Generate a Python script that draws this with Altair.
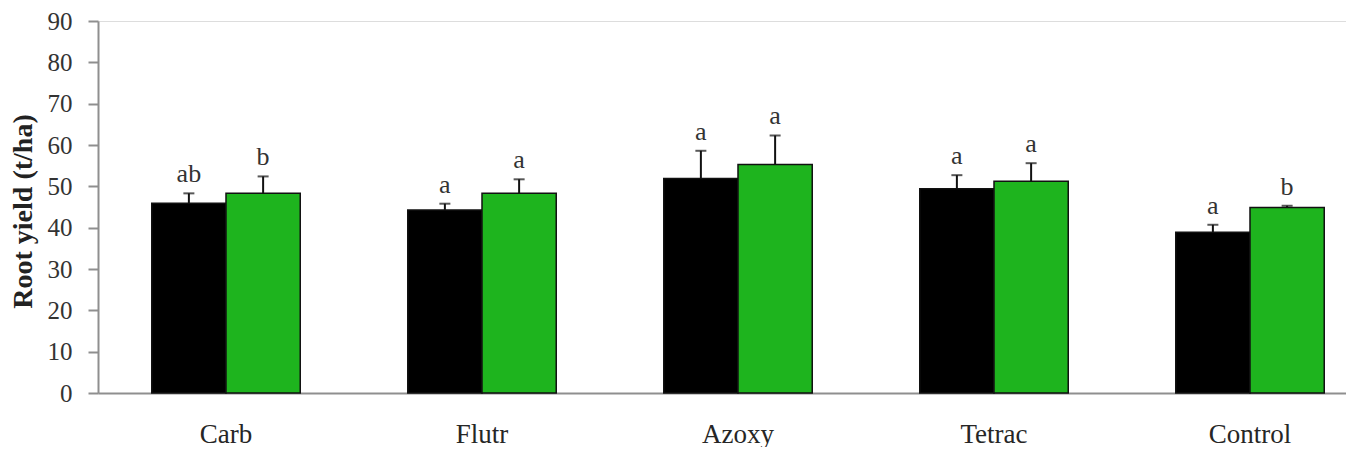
import altair as alt
import pandas as pd

categories = ["Carb", "Flutr", "Azoxy", "Tetrac", "Control"]
series_names = ["Series 1", "Series 2"]
black_values = [45.9, 44.3, 51.9, 49.4, 38.9]
black_errors = [2.4, 1.5, 6.7, 3.3, 1.8]
green_values = [48.3, 48.3, 55.3, 51.2, 44.9]
green_errors = [4.1, 3.4, 7.0, 4.4, 0.4]
black_letters = ["ab", "a", "a", "a", "a"]
green_letters = ["b", "a", "a", "a", "b"]
y_ticks = [0, 10, 20, 30, 40, 50, 60, 70, 80, 90]

rows = []
for i, c in enumerate(categories):
    rows.append({"cat": c, "series": series_names[0], "value": black_values[i],
                 "err": black_errors[i], "letter": black_letters[i]})
    rows.append({"cat": c, "series": series_names[1], "value": green_values[i],
                 "err": green_errors[i], "letter": green_letters[i]})
df = pd.DataFrame(rows)

FONT = "Liberation Serif"
W, H = 1248, 372

xenc = alt.X("cat:N", sort=categories, title=None,
             scale=alt.Scale(range=[0, 1280], paddingInner=0.42, paddingOuter=0.21),
             axis=alt.Axis(labelAngle=0, labelFont=FONT, labelFontSize=27, labelColor="#262626",
                           ticks=False, tickSize=0, labelPadding=49, labelBaseline="alphabetic",
                           domainColor="#8f8f8f", domainWidth=2, grid=False))
xoff = alt.XOffset("series:N", sort=series_names, scale=alt.Scale(paddingInner=0, paddingOuter=0))
yscale = alt.Scale(domain=[0, 90], nice=False)

base = alt.Chart(df).transform_calculate(top="datum.value + datum.err")

bars = base.mark_bar(stroke="#111111", strokeWidth=1.5).encode(
    x=xenc,
    xOffset=xoff,
    y=alt.Y("value:Q", scale=yscale, title="Root yield (t/ha)",
            axis=alt.Axis(values=y_ticks, grid=False, labelFont=FONT, labelFontSize=25,
                          labelColor="#333333", tickSize=10, tickColor="#8f8f8f", tickWidth=2,
                          domainColor="#8f8f8f", domainWidth=2, labelPadding=16,
                          titleFont=FONT, titleFontSize=28, titleFontWeight="bold",
                          titleColor="#222222", titleAngle=-90, titleX=-75, titleY=190,
                          titleBaseline="middle", titleAlign="center")),
    color=alt.Color("series:N", sort=series_names,
                    scale=alt.Scale(domain=series_names, range=["#000000", "#1eb41e"]),
                    legend=None),
)

err_lines = base.mark_rule(color="#111111", strokeWidth=2).encode(
    x=xenc, xOffset=xoff,
    y=alt.Y("value:Q", scale=yscale),
    y2="top:Q",
)

caps = base.mark_tick(color="#111111", thickness=2, size=11).encode(
    x=xenc, xOffset=xoff,
    y=alt.Y("top:Q", scale=yscale),
)

letters = base.mark_text(font=FONT, fontSize=26, color="#333333", baseline="alphabetic",
                         dy=-11).encode(
    x=xenc, xOffset=xoff,
    y=alt.Y("top:Q", scale=yscale),
    text="letter:N",
)

chart = alt.layer(bars, err_lines, caps, letters).properties(
    width=W, height=H,
    autosize=alt.AutoSizeParams(type="none"),
    padding={"left": 90, "top": 13, "right": 0, "bottom": 54},
).configure_view(stroke=None).configure(background="white")

chart.save("out.html", embed_options={"renderer": "svg", "actions": False})
